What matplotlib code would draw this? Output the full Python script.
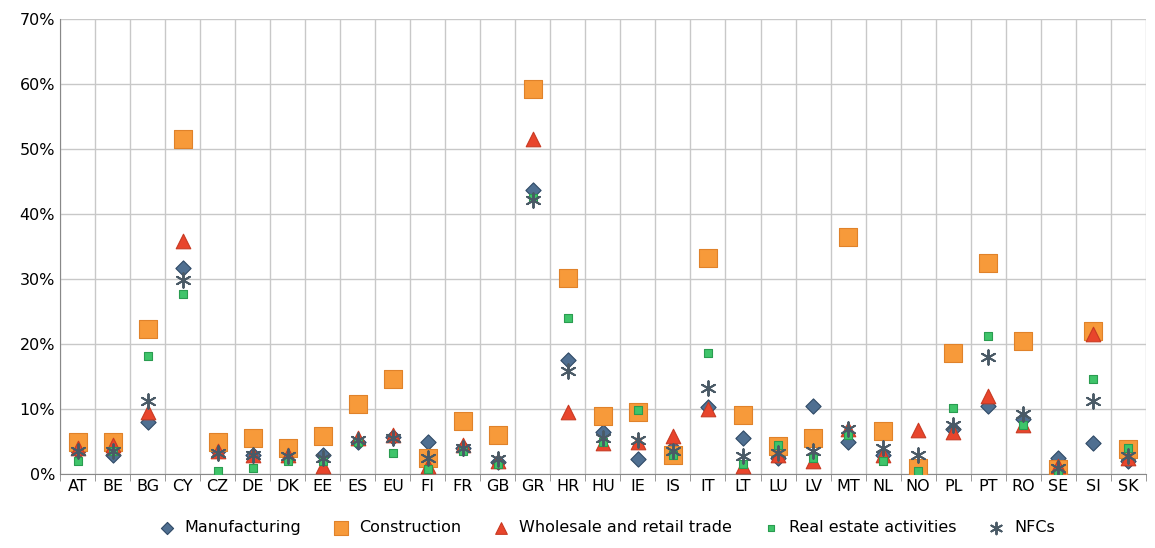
import matplotlib
matplotlib.use("Agg")
import matplotlib.pyplot as plt
import numpy as np

countries = ["AT", "BE", "BG", "CY", "CZ", "DE", "DK", "EE", "ES", "EU", "FI", "FR",
             "GB", "GR", "HR", "HU", "IE", "IS", "IT", "LT", "LU", "LV", "MT", "NL",
             "NO", "PL", "PT", "RO", "SE", "SI", "SK"]
manufacturing = [3.5, 3.0, 8.0, 31.7, 3.5, 3.0, 3.0, 3.0, 5.0, 5.7, 5.0, 4.0, 1.8, 43.7, 17.5,
                 6.5, 2.3, 4.0, 10.3, 5.5, 2.5, 10.5, 5.0, 3.0, 1.0, 7.0, 10.5, 8.5, 2.5, 4.8, 2.0]
construction = [5.0, 5.0, 22.3, 51.6, 5.0, 5.5, 4.0, 5.8, 10.8, 14.7, 2.5, 8.2, 6.0, 59.2, 30.1,
                9.0, 9.6, 2.9, 33.3, 9.1, 4.3, 5.5, 36.5, 6.6, 1.0, 18.6, 32.5, 20.4, 0.8, 22.0, 3.8]
wholesale = [4.0, 4.5, 9.5, 35.8, 3.5, 3.0, 3.0, 1.2, 5.5, 6.0, 1.2, 4.5, 2.0, 51.5, 9.5,
             4.8, 5.0, 5.8, 10.0, 1.2, 3.0, 2.0, 7.0, 3.0, 6.8, 6.5, 12.0, 7.5, 1.2, 21.5, 2.5]
real_estate = [2.0, 3.5, 18.2, 27.7, 0.5, 1.0, 2.0, 2.0, 5.0, 3.3, 0.8, 3.5, 1.5, 42.5, 24.0,
               5.0, 9.8, 3.0, 18.6, 1.5, 4.5, 2.5, 6.0, 2.0, 0.5, 10.2, 21.2, 7.5, 0.2, 14.7, 4.0]
nfcs = [3.5, 3.5, 11.2, 29.8, 3.2, 3.0, 2.8, 2.5, 5.3, 5.5, 2.5, 4.0, 2.3, 42.2, 15.8,
        5.5, 5.2, 3.5, 13.2, 2.8, 3.2, 3.5, 7.0, 4.0, 3.0, 7.5, 18.0, 9.3, 1.0, 11.2, 2.8]

fig, ax = plt.subplots(figsize=(11.55, 5.48), dpi=100)
fig.subplots_adjust(left=0.052, right=0.992, top=0.965, bottom=0.135)

x = np.arange(len(countries))
ax.scatter(x, manufacturing, marker="D", s=60, color="#4f6f91", edgecolor="#2f4a66", lw=0.8,
           label="Manufacturing", zorder=3)
ax.scatter(x, construction, marker="s", s=150, color="#f79a3a", edgecolor="#e0822a", lw=0.8,
           label="Construction", zorder=3)
ax.scatter(x, wholesale, marker="^", s=110, color="#e8452c", edgecolor="#c83a22", lw=0.8,
           label="Wholesale and retail trade", zorder=4)
ax.scatter(x, real_estate, marker="s", s=35, color="#3fc46a", edgecolor="#2a9c50", lw=0.8,
           label="Real estate activities", zorder=5)
ax.scatter(x, nfcs, marker=(6, 2, 0), s=110, color="#4a5a66", lw=1.4,
           label="NFCs", zorder=6)

ax.set_xlim(-0.5, len(countries) - 0.5)
ax.set_ylim(0, 70)
ax.set_xticks(x, countries)
ax.set_xticks(np.arange(-0.5, len(countries)), minor=True)
ax.set_yticks(np.arange(0, 71, 10), [f"{v}%" for v in range(0, 71, 10)])
ax.grid(which="minor", axis="x", color="#c8c8c8", lw=1)
ax.grid(which="major", axis="y", color="#c8c8c8", lw=1)
ax.tick_params(which="both", length=0, labelsize=11.5)
ax.tick_params(axis="x", which="minor", length=5, color="#888888")
for s in ["top", "right"]:
    ax.spines[s].set_visible(False)
for s in ["left", "bottom"]:
    ax.spines[s].set_color("#888888")
ax.set_axisbelow(True)

ax.legend(loc="upper center", bbox_to_anchor=(0.5, -0.07), ncol=5, frameon=False,
          fontsize=11.5, handletextpad=0.1, columnspacing=1.5, markerscale=0.8)
fig.savefig("out.png")
